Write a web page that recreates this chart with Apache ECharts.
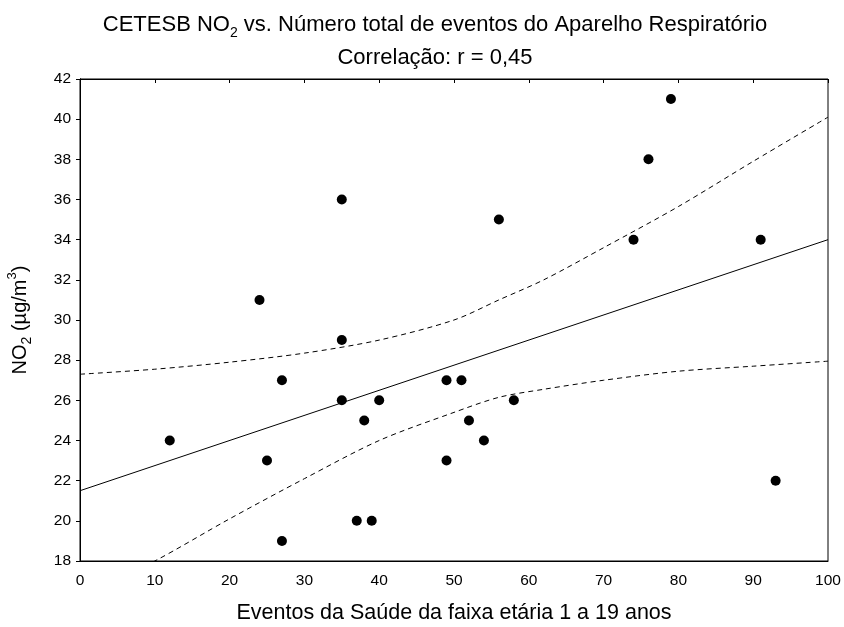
<!DOCTYPE html>
<html>
<head>
<meta charset="utf-8">
<title>CETESB NO2 vs. eventos respiratórios</title>
<script src="https://cdn.jsdelivr.net/npm/echarts@6/dist/echarts.min.js"></script>
<style>
  html, body { margin: 0; padding: 0; background: #fff; }
  #chart { width: 844px; height: 627px; }
</style>
</head>
<body>
<div id="chart"></div>
<script>
// Eventos (faixa 1 a 19 anos) e NO2 medido pela CETESB
const eventos = [12, 24, 25, 27, 27, 35, 35, 35, 37, 38, 39, 40, 49, 49, 51, 52, 54, 56, 58, 74, 76, 79, 91, 93];
const no2     = [24, 31, 23, 27, 19, 36, 29, 26, 20, 25, 20, 26, 27, 23, 27, 25, 24, 35, 26, 34, 38, 41, 34, 22];

// Reta de regressão (extremos do eixo X)
const retaX = [0, 100];
const retaY = [21.5, 34.0];

// Limites do intervalo de confiança de 95%
const icX        = [0, 10, 20, 30, 40, 50, 56, 62, 70, 80, 90, 100];
const icSuperior = [27.3, 27.55, 27.9, 28.35, 29.0, 30.0, 31.0, 32.0, 33.6, 35.65, 37.9, 40.1];
const icInferior = [16.2, 18.0, 20.1, 22.1, 24.0, 25.4, 26.15, 26.55, 27.0, 27.45, 27.7, 27.95];

// Ticks dos eixos
const xMin = 0, xMax = 100, xPasso = 10;
const yMin = 18, yMax = 42, yPasso = 2;

const pares = (xs, ys) => xs.map((x, i) => [x, ys[i]]);

const fonte = "'Liberation Sans', Arial, sans-serif";

const chart = echarts.init(document.getElementById('chart'), null, { renderer: 'canvas' });

const eixoX = {
  min: xMin, max: xMax, interval: xPasso, type: 'value',
  splitLine: { show: false }
};
const eixoY = {
  min: yMin, max: yMax, interval: yPasso, type: 'value',
  splitLine: { show: false }
};

chart.setOption({
  backgroundColor: '#fff',
  animation: false,
  title: [{
    left: 430, top: 5, textAlign: 'center',
    text: '{t|CETESB NO}{s|2}{t| vs. Número total de eventos do Aparelho Respiratório}',
    textStyle: {
      fontWeight: 'normal',
      rich: {
        t: { fontFamily: fonte, fontSize: 22, fontWeight: 'normal', color: '#000', lineHeight: 30 },
        s: { fontFamily: fonte, fontSize: 14, fontWeight: 'normal', color: '#000', lineHeight: 14, verticalAlign: 'bottom' }
      }
    }
  }, {
    left: 430, top: 42, textAlign: 'center',
    text: 'Correlação: r = 0,45',
    textStyle: { fontFamily: fonte, fontSize: 22, fontWeight: 'normal', color: '#000' }
  }],
  grid: {
    left: 80, right: 16, top: 79, bottom: 66,
    outerBoundsMode: 'none', containLabel: false,
    show: true, borderColor: '#000', borderWidth: 1, backgroundColor: 'transparent'
  },
  xAxis: [Object.assign({}, eixoX, {
    position: 'bottom',
    name: 'Eventos da Saúde da faixa etária 1 a 19 anos',
    nameLocation: 'middle', nameGap: 41,
    nameTextStyle: { fontFamily: fonte, fontSize: 21.5, color: '#000' },
    axisLine: { show: true, lineStyle: { color: '#000', width: 1 } },
    axisTick: { show: false },
    axisLabel: { fontFamily: fonte, fontSize: 15.5, color: '#000', margin: 12 }
  }), Object.assign({}, eixoX, {
    position: 'top',
    axisLine: { show: true, lineStyle: { color: '#000', width: 1 } },
    axisTick: { show: true, inside: true, length: 4, lineStyle: { color: '#000' } },
    axisLabel: { show: false }
  })],
  yAxis: [Object.assign({}, eixoY, {
    position: 'left',
    name: '{t|NO}{s|2}{t| (µg/m}{p|3}{t|)}',
    nameLocation: 'middle', nameGap: 46, nameRotate: 90,
    nameTextStyle: {
      rich: {
        t: { fontFamily: fonte, fontSize: 20, color: '#000', lineHeight: 28 },
        s: { fontFamily: fonte, fontSize: 14, color: '#000', lineHeight: 14, verticalAlign: 'bottom' },
        p: { fontFamily: fonte, fontSize: 13, color: '#000', lineHeight: 14, verticalAlign: 'top' }
      }
    },
    axisLine: { show: true, lineStyle: { color: '#000', width: 1 } },
    axisTick: { show: false },
    axisLabel: { fontFamily: fonte, fontSize: 15.5, color: '#000', margin: 9 }
  }), Object.assign({}, eixoY, {
    position: 'right',
    axisLine: { show: true, lineStyle: { color: '#000', width: 1 } },
    axisTick: { show: true, inside: true, length: 4, lineStyle: { color: '#000' } },
    axisLabel: { show: false }
  })],
  series: [{
    type: 'line', name: 'IC superior',
    data: pares(icX, icSuperior), smooth: 0.3,
    symbol: 'none', clip: true,
    lineStyle: { color: '#000', width: 1, type: [5, 4] }
  }, {
    type: 'line', name: 'IC inferior',
    data: pares(icX, icInferior), smooth: 0.3,
    symbol: 'none', clip: true,
    lineStyle: { color: '#000', width: 1, type: [5, 4] }
  }, {
    type: 'line', name: 'Regressão',
    data: pares(retaX, retaY),
    symbol: 'none', clip: true,
    lineStyle: { color: '#000', width: 1 }
  }, {
    type: 'scatter', name: 'Observações',
    data: pares(eventos, no2),
    symbol: 'circle', symbolSize: 10,
    itemStyle: { color: '#000', opacity: 1 }
  }]
});
</script>
</body>
</html>
